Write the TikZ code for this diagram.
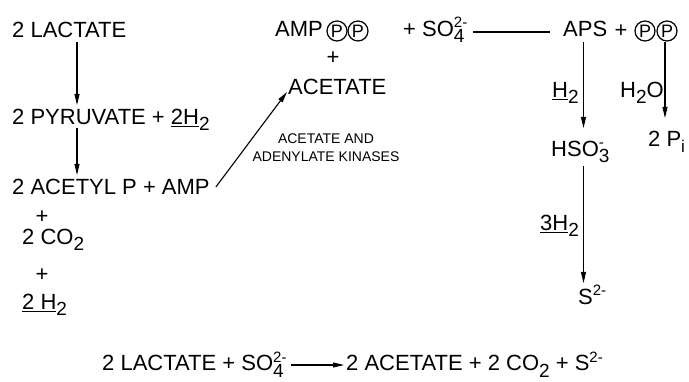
\documentclass[tikz,border=0pt]{standalone}
\usepackage{fontspec}
\setmainfont{Liberation Sans}
\usetikzlibrary{arrows.meta,calc}

% chemical sub- and superscripts in the lettering style
\newcommand\lo[1]{\raisebox{-6pt}{\fontsize{19}{19}\selectfont #1}}
\newcommand\hi[1]{\raisebox{9pt}{\fontsize{15}{15}\selectfont #1}}
\newcommand\both[2]{\setbox0\hbox{\hi{#1}}\setbox2\hbox{\lo{#2}}%
  \ifdim\wd0>\wd2 \rlap{\box2}\box0 \else\rlap{\box0}\box2\fi}
\newcommand\ul[1]{\underline{#1}}

\tikzset{
  lbl/.style={font=\fontsize{22}{26}\selectfont, inner sep=0pt, anchor=base west},
  plus/.style={font=\fontsize{22}{26}\selectfont, inner sep=0pt},
  small/.style={font=\fontsize{14}{18}\selectfont, inner sep=0pt, align=center},
  arr/.style={line width=1.1pt, -{Triangle[length=11pt,width=5pt]}},
  conn/.style={line width=1.1pt},
  circp/.style={circle, draw, line width=1.2pt, minimum size=20pt, inner sep=0pt,
    font=\fontsize{18}{18}\selectfont}
}

\begin{document}
\begin{tikzpicture}[x=1pt,y=-1pt]
\useasboundingbox (0,0) rectangle (689,382);

% left column: lactate oxidation
\node[lbl] (lact) at (12,38) {2 LACTATE};
\node[lbl] (pyr) at (12,125) {2 PYRUVATE + \ul{2H}\lo{2}};
\node[lbl] (acetyl) at (12,195) {2 ACETYL P + AMP};
\node[plus] (pl1) at (42,217) {+};
\node[lbl] (co2) at (22,245) {2 CO\lo{2}};
\node[plus] (pl2) at (42,275) {+};
\node[lbl] (h2) at (22,310) {\ul{2 H}\lo{2}};

\coordinate (colL) at (77,0);
\draw[arr] ($(lact.base -| colL)+(0,4)$) -- ($(pyr.base -| colL)+(0,-20)$);
\draw[arr] ($(pyr.base -| colL)+(0,3)$) -- ($(acetyl.base -| colL)+(0,-20)$);

% activation of sulfate
\node[lbl] (amp) at (275,37) {AMP};
\node[circp] (p1) at (337,31) {P};
\node[circp] (p2) at (358,31) {P};
\node[lbl] (so4) at (403,37) {+ SO\both{2-}{4}};
\node[plus] (pl3) at (333,58) {+};
\node[lbl] (acet) at (288,95) {ACETATE};
\node[small] (kin) at (326,148) {ACETATE AND\\ADENYLATE KINASES};

\draw[arr] ($(acetyl.base east)+(6,-8)$) -- ($(acet.base west)+(-1,-3)$);

\node[lbl] (aps) at (563,37) {APS};
\node[plus] (pl4) at (621,31) {+};
\node[circp] (p3) at (645,31) {P};
\node[circp] (p4) at (667,31) {P};
\draw[conn] ($(so4.base east)+(6,-5)$) -- ($(aps.base west)+(-13,-5)$);

% sulfate reduction
\node[lbl] (hso) at (551,157) {HSO\both{-}{3}};
\node[lbl] (sul) at (578,305) {S\hi{2-}};
\node[lbl] (lh2) at (552,98) {\ul{H}\lo{2}};
\node[lbl] (l3h2) at (540,231) {\ul{3H}\lo{2}};

\coordinate (colR) at (583.5,0);
\draw[arr] ($(aps.base -| colR)+(0,5)$) -- ($(hso.base -| colR)+(0,-29)$);
\draw[arr] ($(hso.base -| colR)+(0,9)$) -- ($(sul.base -| colR)+(0,-22)$);

% pyrophosphate hydrolysis
\node[lbl] (pi) at (648,147) {2 P\lo{\fontsize{17}{17}\selectfont i}};
\node[lbl] (lh2o) at (620,98) {H\lo{2}O};
\coordinate (colP) at (665,0);
\draw[arr] ($(aps.base -| colP)+(0,5)$) -- ($(pi.base -| colP)+(0,-29)$);

% overall reaction
\node[lbl] (lhs) at (102,371) {2 LACTATE + SO\both{2-}{4}};
\node[lbl] (rhs) at (346,371) {2 ACETATE + 2 CO\lo{2} + S\hi{2-}};
\draw[arr] ($(lhs.base east)+(4,-6)$) -- ($(rhs.base west)+(-2,-6)$);
\end{tikzpicture}
\end{document}
